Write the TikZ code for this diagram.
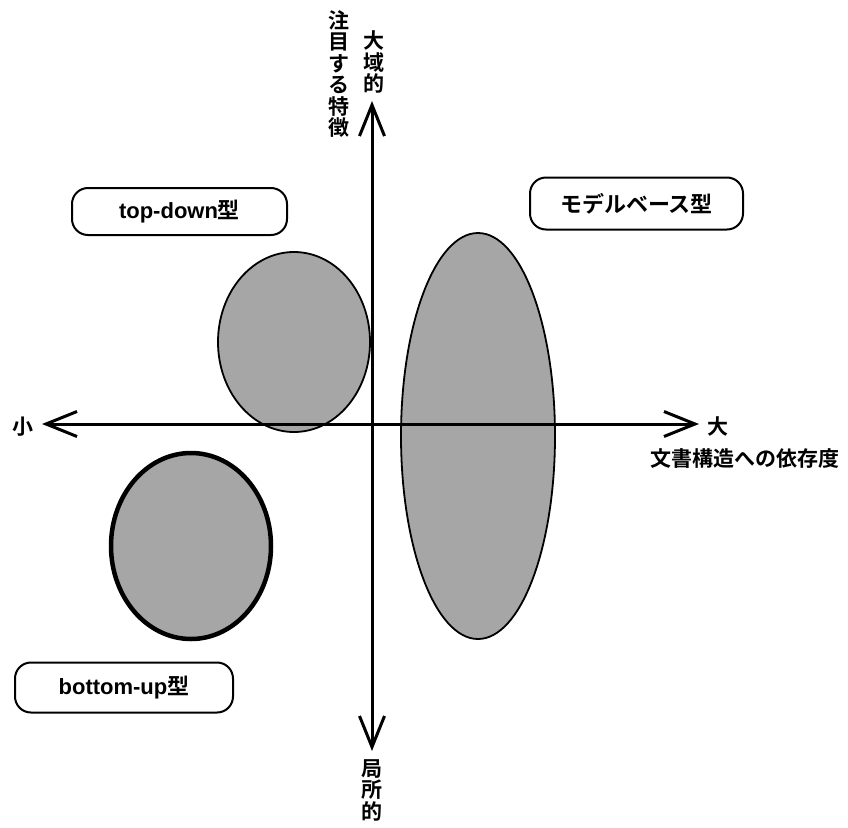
\documentclass[tikz,border=0pt]{standalone}
\usepackage{fontspec}
\setmainfont{Liberation Sans}
\newfontfamily\jp{Noto Sans CJK JP}[BoldFont={Noto Sans CJK JP Bold}]
\usetikzlibrary{arrows.meta}
\begin{document}
\begin{tikzpicture}[x=1pt,y=-1pt,
  barb/.tip={Straight Barb[length=31pt,width=25pt,line width=3pt]},
  axis/.style={line width=3pt,{barb}-{barb}},
  region/.style={draw=black,fill=black!35},
  tag/.style={draw=black,line width=2pt,rounded corners=16pt,
    font=\fontsize{22}{24}\selectfont\bfseries},
  lbl/.style={font=\jp\fontsize{21}{22}\selectfont\bfseries,inner sep=0pt},
  vlbl/.style={lbl,align=center,font=\jp\fontsize{21}{21.5}\selectfont\bfseries}]
\useasboundingbox (0,0) rectangle (848,827);

% shaded regions
\draw[region,line width=1.8pt] (294,342) ellipse [x radius=76, y radius=90];
\draw[region,line width=1.8pt] (478,436) ellipse [x radius=77, y radius=203];
\draw[region,line width=4.5pt] (191,546) ellipse [x radius=80, y radius=93];

% axes
\coordinate (L) at (42,424);
\coordinate (R) at (699,424);
\coordinate (T) at (372,101);
\coordinate (B) at (372,751);
\draw[axis] (L) -- (R);
\draw[axis] (B) -- (T);

% axis labels
\node[lbl] (small) at (23,427) {小};
\node[lbl] (large) at (718,426) {大};
\node[lbl] (dep) at (745,459) {文書構造への依存度};
\node[vlbl] (glob) at (374,62) {大\\域\\的};
\node[vlbl] (feat) at (339,74) {注\\目\\す\\る\\特\\徴};
\node[vlbl] (loc) at (372,790) {局\\所\\的};

% method tags
\node[tag,minimum width=215pt,minimum height=47pt] (td) at (179.5,211.5) {top-down{\jp 型}};
\node[tag,minimum width=213pt,minimum height=52pt,font=\jp\fontsize{22}{24}\selectfont\bfseries] (mb) at (636.5,203.5) {モデルベース型};
\node[tag,minimum width=218pt,minimum height=50pt] (bu) at (124,687.5) {bottom-up{\jp 型}};
\end{tikzpicture}
\end{document}
